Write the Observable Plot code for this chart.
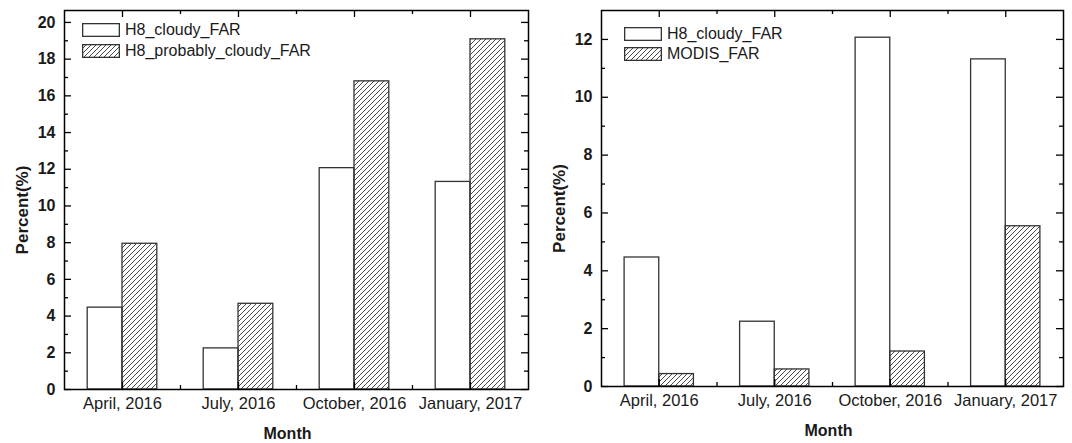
<!DOCTYPE html>
<html><head><meta charset="utf-8">
<script src="https://cdn.jsdelivr.net/npm/d3@7"></script>
<script src="https://cdn.jsdelivr.net/npm/@observablehq/plot@0.6"></script>
<style>
body{margin:0;background:#fff;}
#wrap{position:relative;width:1072px;height:443px;display:flex;font-family:"Liberation Sans",Arial,sans-serif;background:#fff;}
.item{position:absolute;display:flex;align-items:center;white-space:nowrap;height:14px;font-size:16px;color:#1a1a1a;font-family:"Liberation Sans",Arial,sans-serif;}
.item svg{margin-right:5px;display:block;}
</style></head><body>
<svg width="0" height="0" style="position:absolute">
<defs><pattern id="hatch" patternUnits="userSpaceOnUse" width="5" height="5">
<path d="M-1,1 l2,-2 M0,5 l5,-5 M4,6 l2,-2" stroke="#333" stroke-width="0.9"/>
</pattern></defs></svg>
<div id="wrap"></div>
<script>
const months = ["April, 2016", "July, 2016", "October, 2016", "January, 2017"];
const h8Cloudy = [4.46, 2.24, 12.06, 11.31];
const h8ProbablyCloudy = [7.94, 4.67, 16.79, 19.08];
const modisFar = [0.43, 0.59, 1.21, 5.54];
const leftSeries = ["H8_cloudy_FAR", "H8_probably_cloudy_FAR"];
const rightSeries = ["H8_cloudy_FAR", "MODIS_FAR"];
const leftYTicks = [0, 2, 4, 6, 8, 10, 12, 14, 16, 18, 20];
const leftYMinor = [1, 3, 5, 7, 9, 11, 13, 15, 17, 19];
const rightYTicks = [0, 2, 4, 6, 8, 10, 12];
const rightYMinor = [1, 3, 5, 7, 9, 11];
const yTitle = "Percent(%)";
const xTitle = "Month";

const FONT = '"Liberation Sans", Arial, sans-serif';

function panel({values, yMax, majors, minors, ml, mr, mb, monthDx}) {
  const W = 536, H = 443, mt = 10;
  const iw = W - ml - mr, ih = H - mt - mb;
  const rows = [];
  months.forEach((m, i) => values.forEach((vals, s) => rows.push({i, s, v: vals[i]})));
  const lo = [0.2, 0.5], hi = [0.5, 0.8];
  const centers = months.map((_, i) => i + 0.5);
  const bounds = months.slice(1).map((_, i) => i + 1);
  const tick = {stroke: "#000", strokeWidth: 1.3};
  return Plot.plot({
    width: W, height: H, marginLeft: ml, marginRight: mr, marginTop: mt, marginBottom: mb,
    style: {fontFamily: FONT, fontSize: "16px", color: "#1a1a1a", background: "#fff", overflow: "visible"},
    x: {domain: [0, months.length]},
    y: {domain: [0, yMax]},
    marks: [
      Plot.rectY(rows.filter(d => d.s === 0), {x1: d => d.i + lo[d.s], x2: d => d.i + hi[d.s], y: "v", fill: "#fff", stroke: "#333", strokeWidth: 1.3}),
      Plot.rectY(rows.filter(d => d.s === 1), {x1: d => d.i + lo[d.s], x2: d => d.i + hi[d.s], y: "v", fill: "url(#hatch)", stroke: "#333", strokeWidth: 1.3}),
      Plot.ruleY(majors, {...tick, insetRight: iw - 7}),
      Plot.ruleY(minors, {...tick, insetRight: iw - 4}),
      Plot.ruleY(majors, {...tick, insetLeft: iw - 7}),
      Plot.ruleY(minors, {...tick, insetLeft: iw - 4}),
      Plot.ruleX(centers, {...tick, insetBottom: ih - 7}),
      Plot.ruleX(bounds, {...tick, insetBottom: ih - 4}),
      Plot.ruleX(centers, {...tick, insetTop: ih - 7}),
      Plot.ruleX(bounds, {...tick, insetTop: ih - 4}),
      Plot.frame({stroke: "#000", strokeWidth: 1.5}),
      Plot.axisY({ticks: majors, tickSize: 0, tickPadding: 9, fontWeight: "bold", fontSize: 16, label: null}),
      Plot.axisX({ticks: centers, tickFormat: d => months[Math.floor(d)], tickSize: 0, tickPadding: 8, fontSize: 16.5, label: null}),
      Plot.text([yTitle], {text: d => d, frameAnchor: "left", textAnchor: "middle", dx: -42, dy: 10, rotate: -90, fontWeight: "bold", fontSize: 17, fill: "#1a1a1a"}),
      Plot.text([xTitle], {text: d => d, frameAnchor: "bottom", textAnchor: "middle", dx: monthDx, dy: 44, lineAnchor: "middle", fontWeight: "bold", fontSize: 16, fill: "#1a1a1a"})
    ]
  });
}

const wrap = document.getElementById("wrap");
wrap.append(panel({values: [h8Cloudy, h8ProbablyCloudy], yMax: 20.65, majors: leftYTicks, minors: leftYMinor, ml: 64, mr: 8, mb: 54, monthDx: -9}));
wrap.append(panel({values: [h8Cloudy, modisFar], yMax: 13, majors: rightYTicks, minors: rightYMinor, ml: 65, mr: 9, mb: 57, monthDx: -4}));

function legend(series, left, tops) {
  series.forEach((name, k) => {
    const div = document.createElement("div");
    div.className = "item";
    div.style.left = left + "px";
    div.style.top = tops[k] + "px";
    const fill = k === 0 ? "#fff" : "url(#hatch)";
    div.innerHTML = `<svg width="38" height="14"><rect x="0.65" y="0.65" width="36.7" height="12.7" fill="${fill}" stroke="#333" stroke-width="1.3"/></svg>`;
    const span = document.createElement("span");
    span.textContent = name;
    div.append(span);
    wrap.append(div);
  });
}
legend(leftSeries, 82, [23, 44]);
legend(rightSeries, 624, [27, 47]);
</script>
</body></html>
